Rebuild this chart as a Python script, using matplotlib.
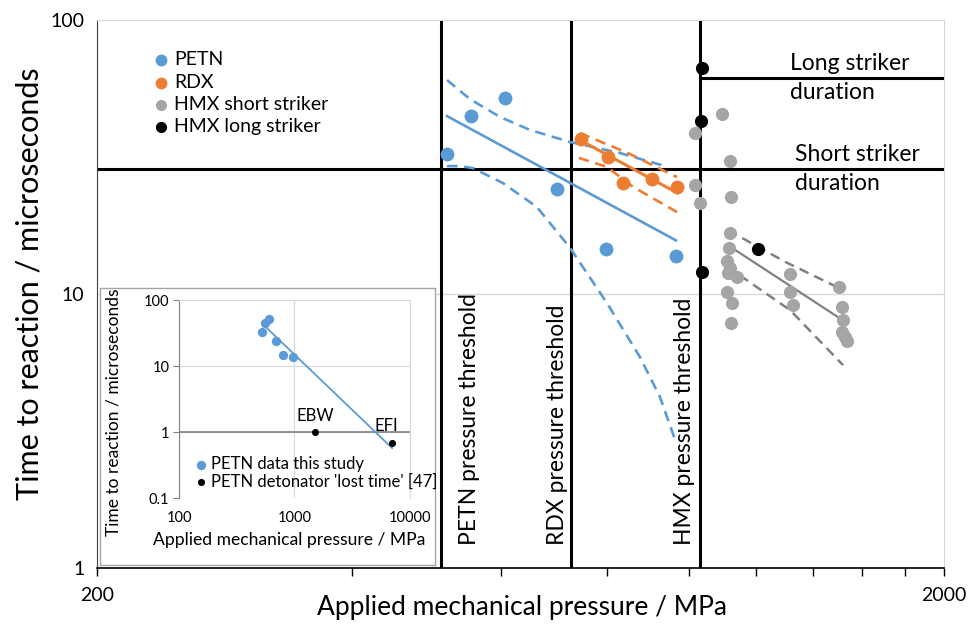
import numpy as np
import matplotlib
matplotlib.use('Agg')
import matplotlib.pyplot as plt

plt.rcParams['font.family'] = ['Lato', 'DejaVu Sans']

# PETN data (pressure MPa, time to reaction us)
petn_p = [518, 553, 606, 698, 798, 965]
petn_t = [32.4, 44.6, 51.9, 24.2, 14.6, 13.8]
petn_fit_p = [518, 965]
petn_fit_t = [44.6, 15.7]
petn_up_p = [518, 551, 598, 649, 723, 829, 944]
petn_up_t = [60.4, 51.5, 44.3, 39.7, 35.9, 32.7, 29.1]
petn_lo_p = [518, 537, 556, 603, 661, 723, 800, 875, 924, 965]
petn_lo_t = [29.3, 29.3, 28.8, 25.4, 20.8, 14.8, 9.27, 5.89, 4.21, 2.88]

# RDX
rdx_p = [745, 802, 836, 904, 968]
rdx_t = [36.8, 31.6, 25.4, 26.3, 24.6]
rdx_fit_p = [743, 968]
rdx_fit_t = [36.5, 23.4]
rdx_up_p = [743, 847, 968]
rdx_up_t = [38.7, 32.7, 26.7]
rdx_lo_p = [741, 800, 859, 968]
rdx_lo_t = [31.4, 29.1, 24.6, 19.9]

# HMX short striker
hmx_s_p = [1094, 1016, 1118, 1016, 1030, 1121, 1118, 1115, 1109, 1118, 1112, 1139,
           1109, 1124, 1121, 1316, 1316, 1327, 1503, 1516, 1520, 1516, 1528, 1536]
hmx_s_t = [45.4, 38.7, 30.6, 25.0, 21.5, 22.6, 16.7, 14.7, 13.2, 12.4, 11.9, 11.5,
           10.2, 9.27, 7.84, 11.8, 10.2, 9.12, 10.6, 8.97, 8.04, 7.27, 6.97, 6.74]
hmx_fit_p = [1133, 1499]
hmx_fit_t = [14.5, 8.24]
hmx_up_p = [1112, 1299, 1496]
hmx_up_t = [17.1, 13.1, 10.6]
hmx_lo_p = [1148, 1316, 1520]
hmx_lo_t = [11.7, 8.74, 5.5]

# HMX long striker
hmx_l_p = [1036, 1033, 1206, 1036]
hmx_l_t = [66.8, 42.8, 14.6, 12.0]

# thresholds / durations
petn_thr = 510
rdx_thr = 725
hmx_thr = 1030
short_dur = 28.6
long_dur = 61.4

# inset: detonator 'lost time'
det_p = [1500, 7000]
det_t = [1.0, 0.69]
det_names = ['EBW', 'EFI']
inset_fit_p = [560, 7000]
inset_fit_t = [39.4, 0.57]

blue = '#5B9BD5'
orange = '#ED7D31'
grey = '#A5A5A5'
dgrey = '#808080'

fig = plt.figure(figsize=(9.7, 6.24), dpi=100)
ax = fig.add_axes([0.1, 0.0897, 0.8732, 0.8782])
ax.set_xscale('log')
ax.set_yscale('log')
ax.set_xlim(200, 2000)
ax.set_ylim(1, 100)

ax.axhline(10, color='#d9d9d9', lw=1, zorder=0)

# thresholds and durations
for xv in [petn_thr, rdx_thr, hmx_thr]:
    ax.axvline(xv, color='black', lw=2.2, zorder=2)
ax.axhline(short_dur, color='black', lw=2.2, zorder=2)
ax.plot([hmx_thr, 2000], [long_dur, long_dur], color='black', lw=2.2, zorder=2)

# fits and bands
dash = (4, 2.5)
ax.plot(petn_fit_p, petn_fit_t, color=blue, lw=1.9, zorder=3)
ax.plot(petn_up_p, petn_up_t, color=blue, lw=1.9, dashes=dash, zorder=3)
ax.plot(petn_lo_p, petn_lo_t, color=blue, lw=1.9, dashes=dash, zorder=3)
ax.plot(rdx_fit_p, rdx_fit_t, color=orange, lw=2.2, zorder=3)
ax.plot(rdx_up_p, rdx_up_t, color=orange, lw=1.9, dashes=dash, zorder=3)
ax.plot(rdx_lo_p, rdx_lo_t, color=orange, lw=1.9, dashes=dash, zorder=3)
ax.plot(hmx_fit_p, hmx_fit_t, color=dgrey, lw=1.6, zorder=3)
ax.plot(hmx_up_p, hmx_up_t, color=dgrey, lw=1.8, dashes=dash, zorder=3)
ax.plot(hmx_lo_p, hmx_lo_t, color=dgrey, lw=1.8, dashes=dash, zorder=3)

# points
s1 = ax.scatter(petn_p, petn_t, s=100, color=blue, lw=0, zorder=4, label='PETN')
s2 = ax.scatter(rdx_p, rdx_t, s=100, color=orange, lw=0, zorder=4, label='RDX')
s3 = ax.scatter(hmx_s_p, hmx_s_t, s=90, color=grey, lw=0, zorder=4, label='HMX short striker')
s4 = ax.scatter(hmx_l_p, hmx_l_t, s=90, color='black', lw=0, zorder=5, label='HMX long striker')

ax.legend(handles=[s1, s2, s3, s4], loc='upper left', bbox_to_anchor=(0.053, 0.957),
          frameon=False, fontsize=14, handletextpad=0.05, labelspacing=0.27,
          handlelength=1.2, borderaxespad=0, markerscale=0.85)

# annotations
ax.text(1316, long_dur, 'Long striker\nduration', fontsize=16.5, va='center', ha='left',
        linespacing=1.45)
ax.text(1334, short_dur, 'Short striker\nduration', fontsize=16.5, va='center', ha='left',
        linespacing=1.45)
ax.text(551, 1.21, 'PETN pressure threshold', rotation=90, fontsize=16.5, ha='center', va='bottom')
ax.text(700, 1.21, 'RDX pressure threshold', rotation=90, fontsize=16.5, ha='center', va='bottom')
ax.text(989, 1.21, 'HMX pressure threshold', rotation=90, fontsize=16.5, ha='center', va='bottom')

# axes styling
ax.set_xticks([200, 2000])
ax.set_xticklabels(['200', '2000'])
ax.set_xticks([400, 600, 800, 1000, 1200, 1400, 1600, 1800], minor=True)
ax.set_xticklabels([], minor=True)
ax.set_yticks([1, 10, 100])
ax.set_yticklabels(['1', '10', '100'])
ax.yaxis.set_minor_locator(matplotlib.ticker.NullLocator())
ax.tick_params(axis='x', which='both', length=6, width=1, direction='out', labelsize=14, pad=8)
ax.tick_params(axis='y', which='both', length=0, labelsize=14, pad=9)
ax.spines['left'].set_color('#404040')
ax.spines['bottom'].set_color('black')
ax.spines['bottom'].set_linewidth(1.2)
ax.spines['top'].set_color('#d9d9d9')
ax.spines['right'].set_color('#d9d9d9')
ax.set_xlabel('Applied mechanical pressure / MPa', fontsize=19)
ax.set_ylabel('Time to reaction / microseconds', fontsize=22)
ax.xaxis.set_label_coords(0.502, -0.05)
ax.yaxis.set_label_coords(-0.063, 0.518)

# inset box
box = fig.add_axes([100 / 970, 59 / 624, 335 / 970, 277 / 624], zorder=5)
box.set_xticks([])
box.set_yticks([])
for sp in box.spines.values():
    sp.set_color('#a6a6a6')
    sp.set_linewidth(1)

ins = fig.add_axes([179 / 970, 126 / 624, 231 / 970, 198 / 624], zorder=6)
ins.set_xscale('log')
ins.set_yscale('log')
ins.set_xlim(100, 10000)
ins.set_ylim(0.1, 100)
ins.set_xticks([100, 1000, 10000])
ins.set_xticklabels(['100', '1000', '10000'])
ins.set_yticks([0.1, 1, 10, 100])
ins.set_yticklabels(['0.1', '1', '10', '100'])
ins.xaxis.set_minor_locator(matplotlib.ticker.NullLocator())
ins.yaxis.set_minor_locator(matplotlib.ticker.NullLocator())
ins.grid(True, color='#d9d9d9', lw=0.8)
ins.set_axisbelow(True)
ins.axhline(1, color=dgrey, lw=1.2, zorder=1)
ins.spines['left'].set_color(dgrey)
ins.spines['bottom'].set_visible(False)
ins.spines['top'].set_color('#d9d9d9')
ins.spines['right'].set_color('#d9d9d9')
ins.tick_params(axis='x', length=0, labelsize=10.5, pad=9)
ins.tick_params(axis='y', length=4, color=dgrey, labelsize=10.5, pad=3)

ins.plot(inset_fit_p, inset_fit_t, color=blue, lw=1.3, zorder=2)
i1 = ins.scatter(petn_p, petn_t, s=45, color=blue, lw=0, zorder=3, label='PETN data this study')
i2 = ins.scatter(det_p, det_t, s=26, color='black', lw=0, zorder=3,
                 label="PETN detonator 'lost time' [47]")
for p, t, name, dx in zip(det_p, det_t, det_names, [0, -4]):
    ins.annotate(name, (p, t), xytext=(dx, 6), textcoords='offset points',
                 ha='center', va='bottom', fontsize=12)
ins.legend(handles=[i1, i2], loc='lower left', bbox_to_anchor=(0.03, 0.01), frameon=False,
           fontsize=12, handletextpad=0.1, labelspacing=0.05, handlelength=1.0,
           borderaxespad=0)
ins.set_xlabel('Applied mechanical pressure / MPa', fontsize=12.6)
ins.set_ylabel('Time to reaction / microseconds', fontsize=12.5)
ins.xaxis.set_label_coords(0.478, -0.17)
ins.yaxis.set_label_coords(-0.247, 0.434)

fig.savefig('out.png', dpi=100)
